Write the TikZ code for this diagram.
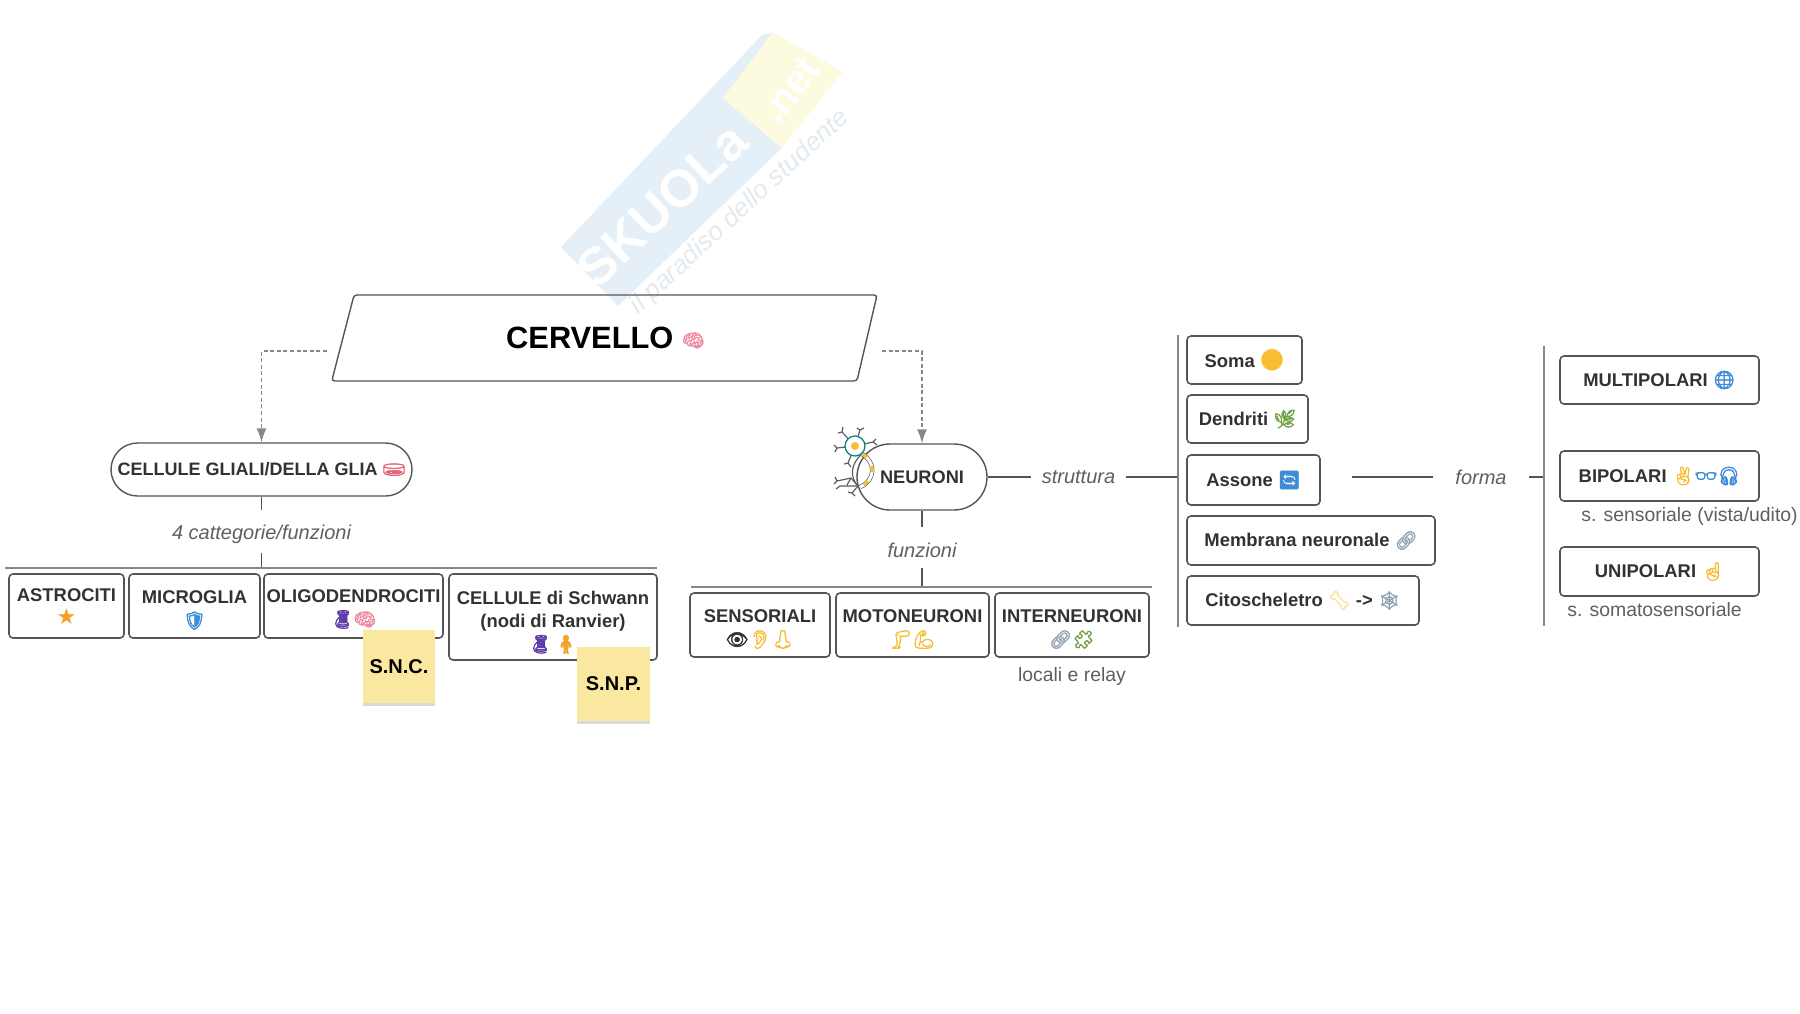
\documentclass[tikz,border=0pt]{standalone}
\usepackage{fontspec}
\setmainfont{Liberation Sans}
\newfontfamily\emojifont[FakeBold=2.5]{Noto Emoji}
\newfontfamily\symfont{DejaVu Sans}
\usepackage{xcolor}
\usetikzlibrary{shapes, arrows.meta, positioning, shadows}
\definecolor{EdgeGrey}{RGB}{85,85,88}
\definecolor{InkGrey}{RGB}{50,50,54}
\definecolor{SoftGrey}{RGB}{95,95,98}
\definecolor{StickyYellow}{RGB}{251,232,160}
\definecolor{WmBlue}{RGB}{228,239,247}
\definecolor{WmYellow}{RGB}{252,251,224}
\definecolor{WmTag}{RGB}{226,234,240}
\definecolor{BrainPink}{RGB}{240,140,160}
\definecolor{DishPink}{RGB}{228,100,120}
\definecolor{StarOrange}{RGB}{245,160,40}
\definecolor{ShieldBlue}{RGB}{60,140,215}
\definecolor{SpoolPurple}{RGB}{95,60,170}
\definecolor{SkinYellow}{RGB}{248,190,50}
\definecolor{LeafGreen}{RGB}{110,160,70}
\definecolor{ChainGrey}{RGB}{150,165,180}
\newcommand{\emo}[2]{{\normalfont\fontsize{9}{11.5}\selectfont\emojifont\textcolor{#1}{#2}}}
\newcommand{\sym}[3]{{\normalfont\fontsize{#1}{11.5}\selectfont\symfont\textcolor{#2}{#3}}}
\newcommand{\tp}[1]{\rule{0pt}{#1pt}}

\begin{document}
\begin{tikzpicture}[
    x=0.5pt, y=-0.5pt,
    cellbox/.style={rectangle, draw=EdgeGrey, line width=0.8pt, fill=white, rounded corners=2pt, inner sep=0pt, align=center, text=InkGrey, font=\bfseries\fontsize{9.2}{11.5}\selectfont},
    pillbox/.style={rounded rectangle, draw=EdgeGrey, line width=0.7pt, fill=white, inner sep=0pt, text=InkGrey, font=\bfseries\fontsize{9}{11.5}\selectfont},
    sticky/.style={rectangle, fill=StickyYellow, inner sep=0pt, text=black, font=\bfseries\fontsize{10}{12}\selectfont, drop shadow={shadow xshift=0pt, shadow yshift=-1.5pt, opacity=0.15, fill=black}},
    catlabel/.style={inner sep=0pt, text=SoftGrey, font=\itshape\fontsize{10}{12}\selectfont},
    note/.style={inner sep=0pt, text=SoftGrey, font=\fontsize{9.7}{12}\selectfont},
    linkline/.style={EdgeGrey, line width=0.8pt},
    barline/.style={SoftGrey!75, line width=0.9pt},
    dashlink/.style={SoftGrey!75, line width=0.7pt, dash pattern=on 2pt off 1.3pt, -{Latex[length=7pt,width=5pt]}},
    dendrite/.style={SoftGrey, line width=0.6pt}
  ]
  \useasboundingbox (0,0) rectangle (1800,1013);

  \fill[WmBlue] (561,247) -- (762,35) -- (773,32) -- (723,98) -- (782,148) -- (618,306) -- cycle;
  \fill[WmYellow] (773,32) -- (843,72) -- (782,148) -- (723,98) -- cycle;
  \node (wmname) [rotate=43, text=white, font=\bfseries\fontsize{26}{30}\selectfont] at (662,205) {SKUOLa};
  \node (wmnet) [rotate=52, text=white, font=\bfseries\fontsize{20}{25}\selectfont] at (790,90) {.net};
  \node (wmtag) [rotate=42.7, text=WmTag, font=\itshape\fontsize{13}{17}\selectfont] at (740,212) {il paradiso dello studente};

  \node (cerv) [trapezium, trapezium left angle=68, trapezium right angle=110, trapezium stretches=true, draw=EdgeGrey, line width=0.7pt, rounded corners=1.5pt, minimum width=273pt, minimum height=43pt, inner sep=0pt, font=\bfseries\fontsize{15.4}{18}\selectfont] at (605.5,338) {\raisebox{-1pt}{CERVELLO} \emo{BrainPink}{🧠}};

  \coordinate (gliahook) at (327,351);
  \coordinate (neurhook) at (882,351);

  \node (glia) [pillbox, minimum width=150.5pt, minimum height=26.5pt] at (261.5,469.5) {CELLULE GLIALI/DELLA GLIA \emo{DishPink}{🧫}};
  \node (neur) [pillbox, font=\bfseries\fontsize{9.1}{11.5}\selectfont, minimum width=65pt, minimum height=33pt] at (922,477) {NEURONI};
  \draw[dashlink] (gliahook) -| (glia.north);
  \draw[dashlink] (neurhook) -| (neur.north);

  \node (lcat) [catlabel] at (261.5,534) {4 cattegorie/funzioni};
  \coordinate (lcattop) at (261.5,510);
  \coordinate (lcatbot) at (261.5,553);
  \coordinate (gbarl) at (5,568);
  \coordinate (gbarr) at (657,568);
  \draw[linkline] (glia.south) -- (lcattop);
  \draw[linkline] (lcatbot) -- (lcatbot |- gbarl);
  \draw[barline] (gbarl) -- (gbarr);

  \node (astro) [cellbox, minimum width=57.5pt, minimum height=32pt] at (66.5,606) {\tp{7.4}ASTROCITI\\\sym{11}{StarOrange}{★}};
  \node (micro) [cellbox, minimum width=65.5pt, minimum height=32pt] at (194.5,606) {\tp{10.8}MICROGLIA\\\emo{ShieldBlue}{🛡}};
  \node (oligo) [cellbox, minimum width=89.5pt, minimum height=32pt] at (353.5,606) {\tp{9.6}OLIGODENDROCITI\\\emo{SpoolPurple}{🧵}\emo{BrainPink}{🧠}};
  \node (schw) [cellbox, minimum width=104pt, minimum height=43pt] at (553,617) {\tp{11.9}CELLULE di Schwann\\(nodi di Ranvier)\\\emo{SpoolPurple}{🧵}\,\emo{StarOrange}{🧍}};
  \node (snc) [sticky, minimum width=36pt, minimum height=36.5pt] at (399,666.5) {S.N.C.};
  \node (snp) [sticky, minimum width=36.5pt, minimum height=37pt] at (613.5,684) {S.N.P.};

  \node (lfun) [catlabel] at (922,550) {funzioni};
  \coordinate (lfuntop) at (922,527);
  \coordinate (lfunbot) at (922,568);
  \coordinate (nbarl) at (691,587);
  \coordinate (nbarr) at (1152,587);
  \draw[linkline] (neur.south) -- (lfuntop);
  \draw[linkline] (lfunbot) -- (lfunbot |- nbarl);
  \draw[barline] (nbarl) -- (nbarr);

  \node (sens) [cellbox, minimum width=70pt, minimum height=32pt] at (760,625) {\tp{10.7}SENSORIALI\\\emo{InkGrey}{👁}\emo{SkinYellow}{👂}\emo{SkinYellow}{👃}};
  \node (moto) [cellbox, minimum width=76.5pt, minimum height=32pt] at (912.5,625) {\tp{10.7}MOTONEURONI\\\emo{SkinYellow}{🦵}\emo{SkinYellow}{💪}};
  \node (inter) [cellbox, minimum width=77pt, minimum height=32pt] at (1072,625) {\tp{10.7}INTERNEURONI\\\emo{ChainGrey}{🔗}\emo{LeafGreen}{🧩}};
  \node (nlocal) [note] at (1072,676) {locali e relay};

  \node (lstru) [catlabel, minimum width=47.5pt] at (1078.5,477) {struttura};
  \coordinate (strutop) at (1178,335);
  \coordinate (strubot) at (1178,627);
  \draw[linkline] (neur.east) -- (lstru.west);
  \draw[linkline] (lstru.east) -- (lstru.east -| strutop);
  \draw[barline] (strutop) -- (strubot);

  \node (soma) [cellbox, minimum width=57.5pt, minimum height=24pt] at (1244.5,360) {Soma \sym{14}{SkinYellow}{●}};
  \node (dend) [cellbox, minimum width=60.5pt, minimum height=24pt] at (1247.5,419) {Dendriti \emo{LeafGreen}{🌿}};
  \node (asso) [cellbox, minimum width=66.5pt, minimum height=25pt] at (1253.5,480) {Assone \emo{ShieldBlue}{🔄}};
  \node (memb) [cellbox, minimum width=124pt, minimum height=24.5pt] at (1311,540.5) {Membrana neuronale \emo{ChainGrey}{🔗}};
  \node (cito) [cellbox, minimum width=116pt, minimum height=24.5pt] at (1303,600.5) {Citoscheletro \emo{SkinYellow!50}{🦴} -> \emo{ChainGrey}{🕸}};

  \coordinate (formstart) at (1352,477);
  \node (lform) [catlabel, minimum width=48pt] at (1481,477) {forma};
  \coordinate (formtop) at (1544,346);
  \coordinate (formbot) at (1544,626);
  \draw[linkline] (formstart) -- (lform.west);
  \draw[linkline] (lform.east) -- (lform.east -| formtop);
  \draw[barline] (formtop) -- (formbot);

  \node (mult) [cellbox, minimum width=99.5pt, minimum height=24pt] at (1659.5,380) {MULTIPOLARI \emo{ShieldBlue}{🌐}};
  \node (bipo) [cellbox, minimum width=99.5pt, minimum height=25pt] at (1659.5,476) {BIPOLARI \emo{SkinYellow}{✌}\emo{ShieldBlue}{👓}\emo{ShieldBlue}{🎧}};
  \node (unip) [cellbox, minimum width=99.5pt, minimum height=24.5pt] at (1659.5,571.5) {UNIPOLARI \emo{SkinYellow}{☝}};
  \node (nsens) [note] at (1689.5,516) {s. sensoriale (vista/udito)};
  \node (nsoma) [note] at (1654.5,610) {s. somatosensoriale};

  \draw[dendrite] (855,446) -- (842,432) -- (838,433) (842,432) -- (843,427);
  \draw[dendrite] (855,446) -- (860,430) -- (857,428) (860,430) -- (864,428);
  \draw[dendrite] (855,446) -- (873,442) -- (876,439) (873,442) -- (877,445);
  \draw[dendrite] (855,446) -- (837,448) -- (834,445) (837,448) -- (835,452);
  \draw[dendrite] (855,446) -- (848,463) -- (844,464) (848,463) -- (851,467);
  \draw[dendrite] (862,454) .. controls (850,464) and (850,478) .. (858,486);
  \draw[dendrite] (858,486) -- (851,478) -- (837,481) -- (834,484) (837,481) -- (835,477);
  \draw[dendrite] (858,486) -- (840,486) -- (836,489) (851,478) -- (847,485);
  \draw[dendrite] (858,486) -- (852,493) -- (848,492) (852,493) -- (855,496);
  \draw[SoftGrey, line width=2.2pt] (862,454) .. controls (876,462) and (876,480) .. (860,487);
  \draw[white, line width=1.5pt] (862,454) .. controls (876,462) and (876,480) .. (860,487);
  \draw[SkinYellow, line width=1.5pt, dash pattern=on 3pt off 5pt] (862,454) .. controls (876,462) and (876,480) .. (860,487);
  \draw[teal, line width=0.6pt, fill=white] (855,446) circle (5pt);
  \fill[SkinYellow] (855,446) circle (2pt);
\end{tikzpicture}
\end{document}
